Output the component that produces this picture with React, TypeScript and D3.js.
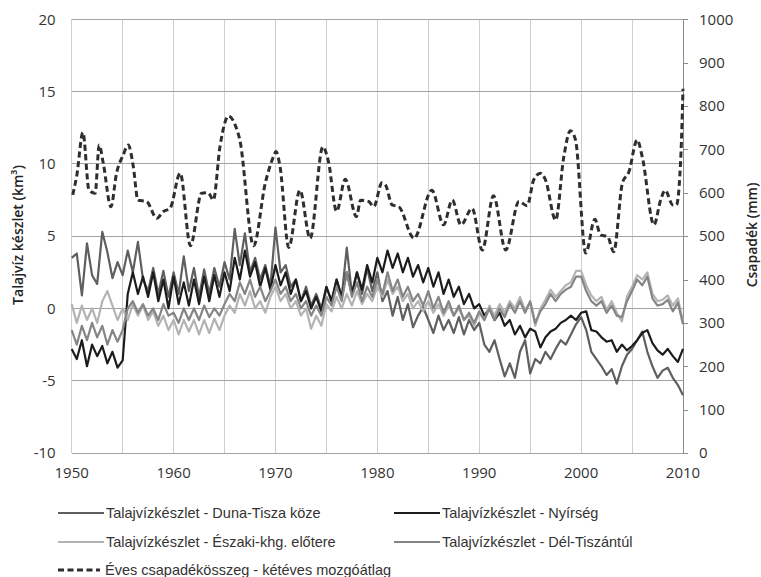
import { useEffect, useRef } from 'react'
import * as d3 from 'd3'

// groundwater series: half-year steps from 1950.0 to 2010.0 (km3)
const gwStart = 1950
const gwStep = 0.5

const dunaTisza = [
  3.5, 3.8, 0.9, 4.5, 2.3, 1.7, 5.3, 3.9, 2.1, 3.2,
  2.3, 4.0, 2.5, 4.6, 2.0, 1.2, 2.8, 1.0, 2.6, 0.8,
  2.5, 1.0, 3.6, 1.2, 2.8, 0.8, 2.7, 1.0, 2.8, 1.5,
  3.2, 2.0, 5.5, 3.0, 5.2, 2.5, 3.5, 2.0, 3.0, 1.5,
  5.6, 2.5, 3.0, 1.5, 2.0, 0.5, 1.5, 0.2, 1.0, 0.0,
  1.5, 0.5, 2.0, 0.8, 4.2, 1.0, 2.5, 1.0, 2.8, 1.2,
  2.5, 0.5, 1.2, -0.5, 0.8, -0.8, 0.3, -1.3, -0.5, 0.1,
  -0.8, -1.7, -0.5, -1.5, -0.8, -1.7, -0.6, -1.8, -0.8, -1.5,
  -1.0, -2.5, -3.0, -2.2, -3.5, -4.7, -3.8, -4.8, -3.0, -2.2,
  -4.5, -3.5, -3.8, -3.0, -3.5, -2.8, -2.2, -2.5, -1.8, -1.1,
  -0.6, -1.5, -3.0, -3.5, -4.0, -4.6, -4.2, -5.2, -4.0, -3.2,
  -2.8, -2.2, -1.6, -3.0, -4.0, -4.8, -4.3, -4.1, -4.8, -5.3,
  -6.0,
]

const nyirseg = [
  -2.8, -3.5, -2.2, -4.0, -2.5, -3.3, -2.6, -3.8, -3.0, -4.1,
  -3.6, 1.0, 2.5, 1.0, 2.2, 0.8, 2.5, 0.5, 2.0, 0.0,
  2.2, 0.3, 1.8, 0.2, 2.0, 0.3, 2.2, 0.5, 2.3, 0.8,
  2.5, 1.2, 3.5, 2.0, 4.0, 2.2, 3.2, 1.5, 2.8, 1.3,
  3.0, 1.6, 2.5, 1.0, 2.0, 0.5, 1.2, 0.0, 0.8, -0.2,
  1.5, 0.5, 2.0, 0.8, 2.5, 1.0, 2.5, 1.3, 3.0, 1.8,
  3.5, 2.5, 4.0, 2.8, 3.8, 2.5, 3.5, 2.2, 3.0, 1.8,
  2.8, 1.5, 2.5, 1.0, 2.0, 0.8, 1.5, 0.3, 1.0, 0.0,
  0.3, -0.5, 0.0, -0.8, -0.3, -1.2, -0.8, -1.8, -1.2, -2.0,
  -1.4, -1.6, -2.7, -2.0, -1.6, -1.4, -1.0, -0.8, -0.5, -0.8,
  -0.3, -0.2, -1.5, -1.6, -2.0, -2.3, -2.2, -3.0, -2.5, -2.9,
  -2.6, -2.2, -1.7, -1.5, -2.4, -2.9, -3.2, -2.8, -3.3, -3.7,
  -2.8,
]

const eszaki = [
  0.3, -1.0, 0.2, -0.8, 0.0, -1.0, 0.5, 1.2, 0.2, -0.8,
  0.0, -0.8, 0.3, -0.5, 0.2, -0.8, -0.2, -1.2, -0.5, -1.5,
  -0.8, -1.8, -0.8, -1.6, -0.8, -1.8, -0.8, -1.7, -0.7, -1.5,
  -0.5, 0.2, -0.3, 1.0, 0.2, 1.2, 0.0, 0.5, -0.3, 0.8,
  1.5, 0.5, 1.0, 0.0, 0.5, -0.5, 0.0, -1.4, -0.5, -1.2,
  0.3, -0.2, 0.8, 0.0, 1.0, 0.2, 1.2, 0.3, 1.0, 0.5,
  1.5, 0.8, 2.0, 1.0, 1.5, 0.5, 1.0, 0.0, 0.5, -0.2,
  0.5, -0.3, 0.3, -0.5, 0.2, -0.5, 0.0, -0.8, -0.5, -1.2,
  -0.3, -0.8, 0.2, -0.5, 0.3, -0.3, 0.5, 0.0, 0.8, -0.1,
  0.4, -1.2, 0.0, 0.6, 1.3, 0.8, 1.2, 1.6, 1.8, 2.6,
  2.6, 1.6, 0.9, 0.5, 0.8, -0.1, 0.5, -0.3, -0.9, 0.8,
  1.5, 2.3, 2.0, 2.5, 1.0, 0.5, 0.6, 0.9, 0.2, 0.7,
  -0.9,
]

const delTiszantul = [
  -1.5, -2.5, -1.2, -2.2, -1.0, -2.0, -1.2, -2.5, -1.5, -2.3,
  -1.5, 0.0, 0.5, -0.3, 0.3, -0.5, 0.0, -0.8, 0.3, -0.5,
  -0.3, -1.0, 0.0, -0.8, 0.0, -0.8, 0.2, -0.6, 0.0, -0.5,
  0.3, 1.0, 0.5, 1.8, 1.0, 2.0, 0.8, 1.5, 0.5, 1.2,
  2.0, 1.0, 1.5, 0.5, 1.0, 0.0, 0.5, -0.5, 0.2, -0.5,
  0.8, 0.2, 1.5, 0.5, 2.5, 0.8, 1.8, 0.5, 1.5, 0.8,
  2.0, 1.0, 2.5, 1.2, 2.0, 0.8, 1.5, 0.5, 1.0, 0.2,
  1.2, 0.0, 0.8, -0.3, 0.5, -0.5, 0.2, -0.8, -0.3, -1.0,
  -0.2, -0.8, 0.0, -0.8, 0.0, -0.6, 0.3, -0.3, 0.5, -0.3,
  0.5, -1.0, -0.2, 0.3, 1.0, 0.5, 1.0, 1.3, 1.5, 2.2,
  2.2, 1.2, 0.5, 0.2, 0.5, -0.3, 0.2, -0.5, -0.6, 0.5,
  1.2, 2.0, 1.6, 2.2, 0.7, 0.2, 0.3, 0.6, -0.2, 0.4,
  -1.1,
]

// annual precipitation, two-year moving average (mm)
const precipYears = [
  1950.1, 1950.5, 1951.1, 1951.7, 1952.3, 1952.7, 1953.1, 1953.85, 1954.4, 1955.05,
  1955.55, 1956.05, 1956.5, 1957.35, 1958.35, 1959.0, 1959.65, 1960.65, 1961.65, 1962.75,
  1963.4, 1963.9, 1964.55, 1965.4, 1966.05, 1966.5, 1967.85, 1969.0, 1969.8, 1970.05,
  1970.45, 1971.3, 1972.4, 1973.4, 1974.65, 1975.2, 1976.0, 1976.85, 1977.95, 1978.35,
  1979.15, 1979.65, 1980.45, 1980.8, 1981.45, 1982.1, 1983.6, 1985.35, 1986.5, 1987.35,
  1988.2, 1989.3, 1990.3, 1991.4, 1992.6, 1993.9, 1994.7, 1995.35, 1996.0, 1996.5,
  1997.5, 1998.3, 1998.95, 1999.45, 2000.45, 2001.35, 2001.9, 2002.6, 2003.2, 2004.05,
  2004.7, 2005.5, 2006.0, 2007.15, 2007.8, 2008.25, 2009.0, 2009.35, 2009.8, 2010.0,
]
const precipMm = [
  595, 640, 739, 606, 599, 710, 668, 568, 645, 687,
  710, 660, 583, 580, 541, 557, 564, 645, 478, 599,
  600, 583, 706, 777, 756, 722, 478, 622, 683, 695,
  660, 474, 606, 495, 706, 672, 557, 631, 545, 583,
  580, 568, 623, 618, 572, 568, 495, 606, 526, 583,
  526, 564, 468, 593, 468, 580, 570, 630, 645, 630,
  537, 683, 743, 722, 461, 539, 503, 499, 464, 622,
  649, 722, 683, 526, 583, 606, 572, 572, 691, 840,
]

const xTicks = [1950, 1960, 1970, 1980, 1990, 2000, 2010]
const xGrid = [1950, 1955, 1960, 1965, 1970, 1975, 1980, 1985, 1990, 1995, 2000, 2005]
const leftTicks = [-10, -5, 0, 5, 10, 15, 20]
const rightTicks = [0, 100, 200, 300, 400, 500, 600, 700, 800, 900, 1000]

const series = [
  { name: 'Talajvízkészlet - Duna-Tisza köze', values: dunaTisza, color: '#5f5f5f' },
  { name: 'Talajvízkészlet - Nyírség', values: nyirseg, color: '#1c1c1c' },
  { name: 'Talajvízkészlet - Északi-khg. előtere', values: eszaki, color: '#b3b3b3' },
  { name: 'Talajvízkészlet - Dél-Tiszántúl', values: delTiszantul, color: '#858585' },
]
const precipName = 'Éves csapadékösszeg - kétéves mozgóátlag'

const tickFont = "'Open Sans', 'DejaVu Sans', sans-serif"
const legendFont = "'Liberation Sans', Arial, sans-serif"

function GroundwaterChart() {
  const svgRef = useRef<SVGSVGElement | null>(null)

  useEffect(() => {
    if (!svgRef.current) return
    const svg = d3.select(svgRef.current)
    svg.selectAll('*').remove()

    const left = 71.7
    const right = 683
    const top = 19.3
    const bottom = 453

    const x = d3.scaleLinear().domain([1950, 2010]).range([left, right])
    const y = d3.scaleLinear().domain([-10, 20]).range([bottom, top])
    const y2 = d3.scaleLinear().domain([0, 1000]).range([bottom, top])

    // grid
    const grid = svg.append('g').attr('shape-rendering', 'crispEdges')
    grid
      .selectAll('.vg')
      .data(xGrid)
      .enter()
      .append('line')
      .attr('x1', (d) => x(d))
      .attr('x2', (d) => x(d))
      .attr('y1', top)
      .attr('y2', bottom)
      .attr('stroke', '#cfcfcf')
      .attr('stroke-width', 1)
    grid
      .selectAll('.hg')
      .data(leftTicks.filter((d) => d > -10))
      .enter()
      .append('line')
      .attr('x1', left)
      .attr('x2', right)
      .attr('y1', (d) => y(d))
      .attr('y2', (d) => y(d))
      .attr('stroke', '#a3a3a3')
      .attr('stroke-width', 1)

    // bottom axis line
    grid
      .append('line')
      .attr('x1', left)
      .attr('x2', right)
      .attr('y1', bottom)
      .attr('y2', bottom)
      .attr('stroke', '#a3a3a3')

    // right axis
    const rAxis = svg
      .append('g')
      .attr('transform', `translate(${right},0)`)
      .call(
        d3
          .axisRight(y2)
          .tickValues(rightTicks)
          .tickSize(5)
          .tickPadding(11)
          .tickFormat(d3.format('d'))
      )
    rAxis.selectAll('path,line').attr('stroke', '#8c8c8c').attr('shape-rendering', 'crispEdges')
    rAxis
      .selectAll('text')
      .attr('fill', '#333')
      .style('font-family', tickFont)
      .style('font-size', '15px')

    // left tick labels
    svg
      .append('g')
      .selectAll('text')
      .data(leftTicks)
      .enter()
      .append('text')
      .attr('x', left - 16)
      .attr('y', (d) => y(d))
      .attr('dy', '0.35em')
      .attr('text-anchor', 'end')
      .attr('fill', '#333')
      .style('font-family', tickFont)
      .style('font-size', '15px')
      .text((d) => d)

    // x tick labels
    svg
      .append('g')
      .selectAll('text')
      .data(xTicks)
      .enter()
      .append('text')
      .attr('x', (d) => x(d))
      .attr('y', bottom + 20)
      .attr('dy', '0.35em')
      .attr('text-anchor', 'middle')
      .attr('fill', '#333')
      .style('font-family', tickFont)
      .style('font-size', '15px')
      .text((d) => d)

    // groundwater lines
    const gwLine = d3
      .line<number>()
      .x((_, i) => x(gwStart + i * gwStep))
      .y((d) => y(d))

    series.forEach((s) => {
      svg
        .append('path')
        .datum(s.values)
        .attr('d', gwLine)
        .attr('fill', 'none')
        .attr('stroke', s.color)
        .attr('stroke-width', 2.2)
        .attr('stroke-linejoin', 'round')
    })

    // precipitation dashed line
    const pLine = d3
      .line<number>()
      .x((_, i) => x(precipYears[i]))
      .y((d) => y2(d))
      .curve(d3.curveMonotoneX)

    svg
      .append('path')
      .datum(precipMm)
      .attr('d', pLine)
      .attr('fill', 'none')
      .attr('stroke', '#2e2e2e')
      .attr('stroke-width', 3)
      .attr('stroke-dasharray', '6,3.5')

    // axis titles
    svg
      .append('text')
      .attr('transform', `translate(18,235) rotate(-90)`)
      .attr('text-anchor', 'middle')
      .attr('dy', '0.35em')
      .attr('fill', '#222')
      .style('font-family', tickFont)
      .style('font-size', '14px')
      .style('font-weight', 600)
      .text('Talajvíz készlet (km³)')

    svg
      .append('text')
      .attr('transform', `translate(752,235) rotate(-90)`)
      .attr('text-anchor', 'middle')
      .attr('dy', '0.35em')
      .attr('fill', '#222')
      .style('font-family', tickFont)
      .style('font-size', '14px')
      .style('font-weight', 600)
      .text('Csapadék (mm)')

    // legend
    const legendItems = [
      { label: series[0].name, color: series[0].color, lx: 58, ly: 513, dash: false },
      { label: series[1].name, color: series[1].color, lx: 394, ly: 513, dash: false },
      { label: series[2].name, color: series[2].color, lx: 58, ly: 542, dash: false },
      { label: series[3].name, color: series[3].color, lx: 394, ly: 542, dash: false },
      { label: precipName, color: '#2e2e2e', lx: 58, ly: 570, dash: true },
    ]

    legendItems.forEach((d) => {
      const row = svg.append('g').attr('transform', `translate(${d.lx},${d.ly})`)
      row
        .append('line')
        .attr('x1', 0)
        .attr('x2', d.dash ? 42 : 46)
        .attr('y1', 0)
        .attr('y2', 0)
        .attr('stroke', d.color)
        .attr('stroke-width', d.dash ? 3 : 2.2)
        .attr('stroke-dasharray', d.dash ? '6,3.5' : null)
      row
        .append('text')
        .attr('x', d.dash ? 47 : 48)
        .attr('y', 0)
        .attr('dy', '0.35em')
        .attr('fill', '#333')
        .style('font-family', legendFont)
        .style('font-size', '14.5px')
        .text(d.label)
    })
  }, [])

  return <svg ref={svgRef} width={761} height={577} style={{ display: 'block' }} />
}

export default function App() {
  return (
    <div style={{ position: 'absolute', left: 0, top: 0, width: 761, height: 577, background: '#fff' }}>
      <GroundwaterChart />
    </div>
  )
}
